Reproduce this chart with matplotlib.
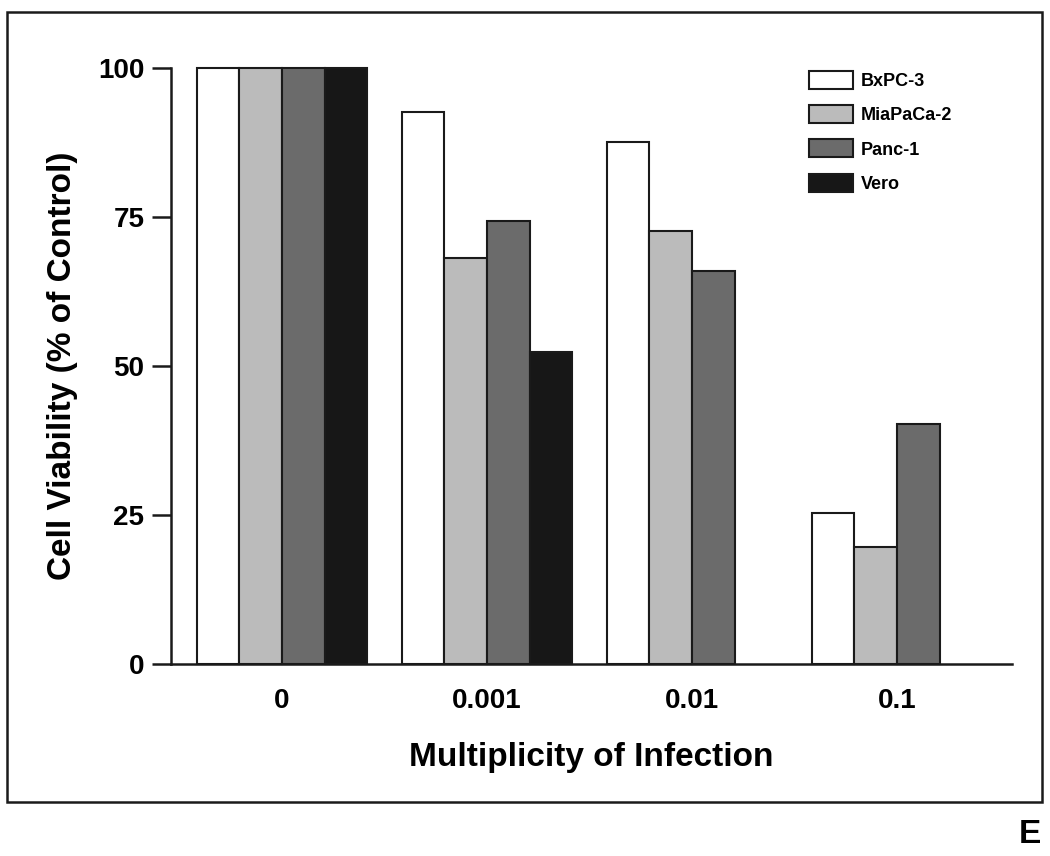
import numpy as np
import matplotlib
matplotlib.use("Agg")
import matplotlib.pyplot as plt
from matplotlib.patches import Rectangle

plt.rcParams['font.family'] = ['Liberation Sans', 'DejaVu Sans']
plt.rcParams['font.weight'] = 'bold'

categories = ["0", "0.001", "0.01", "0.1"]
series_names = ["BxPC-3", "MiaPaCa-2", "Panc-1", "Vero"]
bxpc3 = [100, 92.6, 87.6, 25.3]
miapaca2 = [100, 68.2, 72.6, 19.6]
panc1 = [100, 74.3, 65.9, 40.3]
vero = [100, 52.4, None, None]
yticks = [0, 25, 50, 75, 100]

series = [bxpc3, miapaca2, panc1, vero]
colors = ["#ffffff", "#bbbbbb", "#6b6b6b", "#171717"]

fig = plt.figure(figsize=(10.5, 8.56), dpi=100)
W, H = 1050, 856
ax = fig.add_axes([171 / W, 1 - 664 / H, 841 / W, 596 / H])

w = 0.208
x = np.arange(len(categories))
for k, (vals, name, c) in enumerate(zip(series, series_names, colors)):
    xs = [xi + (k - 1.5) * w for xi, v in zip(x, vals) if v is not None]
    hs = [v for v in vals if v is not None]
    ax.bar(xs, hs, width=w, color=c, edgecolor="#1a1a1a", linewidth=1.5,
           label=name, clip_on=False, zorder=3)

ax.set_xlim(-0.5415, 3.561)
ax.set_ylim(0, 100)
ax.set_xticks(x)
ax.set_xticklabels(categories, fontsize=20, fontweight='bold')
ax.set_yticks(yticks)
ax.set_yticklabels([str(t) for t in yticks], fontsize=20, fontweight='bold')
ax.tick_params(axis='x', length=0, pad=17)
ax.tick_params(axis='y', length=13.7, width=1.8, pad=5.5, color="#1a1a1a")
for s in ['top', 'right']:
    ax.spines[s].set_visible(False)
for s in ['left', 'bottom']:
    ax.spines[s].set_linewidth(1.8)
    ax.spines[s].set_color("#1a1a1a")
    ax.spines[s].set_zorder(4)

ax.set_xlabel("Multiplicity of Infection", fontsize=24, fontweight='bold')
ax.xaxis.set_label_coords(0.5, -0.131)
ax.set_ylabel("Cell Viability (% of Control)", fontsize=24, fontweight='bold')
ax.yaxis.set_label_coords(-0.1106, 0.5)

leg = ax.legend(loc='upper left', bbox_to_anchor=(809 / W, 1 - 71 / H),
                bbox_transform=fig.transFigure, frameon=False,
                prop={'size': 13, 'weight': 'bold'},
                handlelength=2.43, handleheight=1.17, handletextpad=0.45,
                labelspacing=0.83, borderpad=0, borderaxespad=0)

# figure border
fig.patches.append(Rectangle((6.7 / W, 1 - 802 / H), (1042 - 6.7) / W,
                             (802 - 12.3) / H, transform=fig.transFigure,
                             fill=False, edgecolor="#1a1a1a", linewidth=1.8))
fig.text(1041 / W, 1 - 843 / H, "E", fontsize=24, fontweight='bold',
         ha='right', va='baseline')

fig.savefig("out.png", dpi=100)
